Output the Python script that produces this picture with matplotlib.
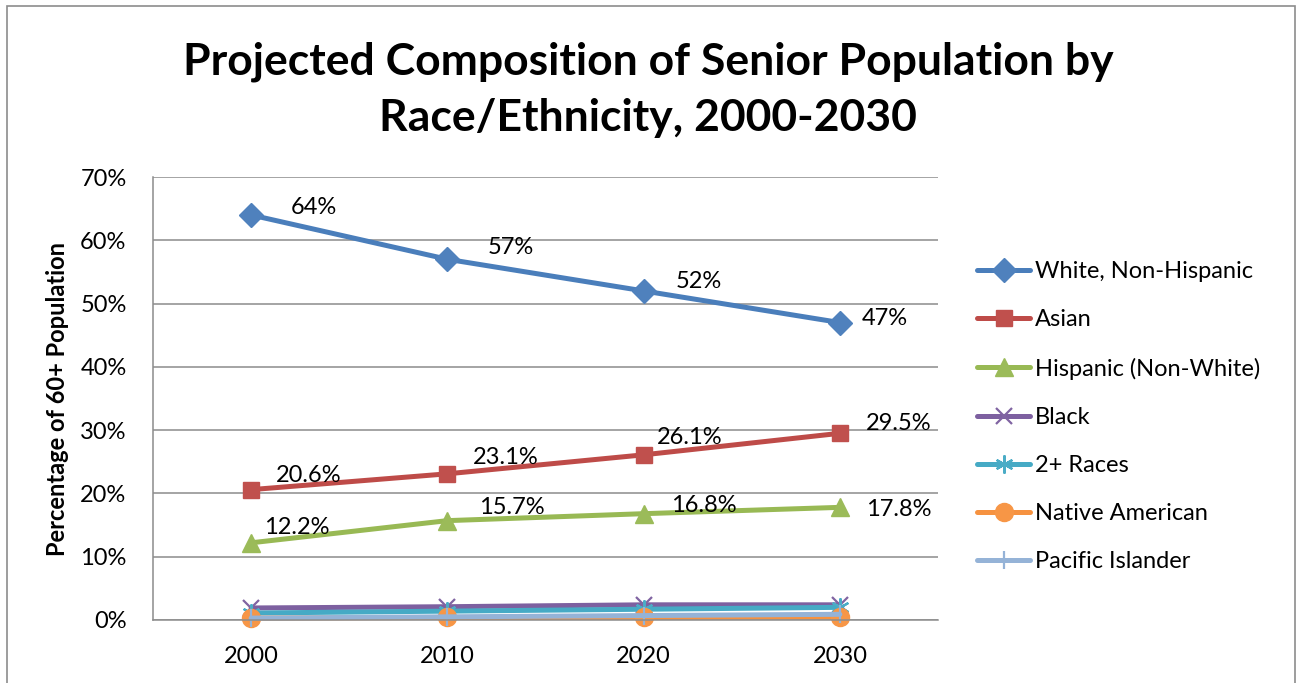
import matplotlib
matplotlib.use("Agg")
import matplotlib.pyplot as plt
from matplotlib.patches import Rectangle
from matplotlib.ticker import FuncFormatter

plt.rcParams['font.family'] = ['Lato', 'DejaVu Sans']

years = ['2000', '2010', '2020', '2030']

white = [64, 57, 52, 47]
asian = [20.6, 23.1, 26.1, 29.5]
hispanic = [12.2, 15.7, 16.8, 17.8]
black = [1.9, 2.1, 2.4, 2.4]
multi = [1.1, 1.4, 1.7, 2.0]
native = [0.3, 0.4, 0.4, 0.5]
pacific = [0.3, 0.5, 0.7, 0.9]

names = ['White, Non-Hispanic', 'Asian', 'Hispanic (Non-White)', 'Black',
         '2+ Races', 'Native American', 'Pacific Islander']

# label nudges in pixels (dx, dy), one per point of the labelled series
white_off = [(40, 7), (40, 12), (32, 9), (22, 4)]
asian_off = [(25, 14), (25, 16), (13, 17), (26, 10)]
hisp_off = [(13, 15), (32, 13), (27, 8), (26, -2)]

FS = 17

fig = plt.figure(figsize=(12.96, 6.83), dpi=100)
ax = fig.add_axes([153 / 1296, 1 - 620 / 683, 785 / 1296, 443 / 683])

x = range(len(years))
styles = [
    (white, '#4A7EBB', '#4F81BD', 'D', 12),
    (asian, '#BE4B48', '#C0504D', 's', 12),
    (hispanic, '#98B954', '#9BBB59', '^', 13),
    (black, '#7D60A0', '#8064A2', 'x', 12),
    (multi, '#46AAC5', '#4BACC6', (6, 2, 0), 13),
    (native, '#F69240', '#F79646', 'o', 13),
    (pacific, '#95B3D7', '#95B3D7', '|', 13),
]
for (vals, lc, mc, mk, ms), name in zip(styles, names):
    ax.plot(x, vals, color=lc, lw=3.6, marker=mk, ms=ms, mfc=mc, mec=mc,
            mew=1.6 if mk in ('x', '|') or isinstance(mk, tuple) else 1,
            label=name, solid_capstyle='round', clip_on=False)

for vals, offs, fmt in [(white, white_off, '{:.0f}%'),
                        (asian, asian_off, '{:.1f}%'),
                        (hispanic, hisp_off, '{:.1f}%')]:
    for i, v in enumerate(vals):
        dx, dy = offs[i]
        ax.annotate(fmt.format(v), (i, v), xytext=(dx * 0.72, dy * 0.72),
                    textcoords='offset points', ha='left', va='center',
                    fontsize=FS)

ax.set_xlim(-0.5, 3.5)
ax.set_ylim(0, 70)
ax.set_yticks(range(0, 71, 10))
ax.yaxis.set_major_formatter(FuncFormatter(lambda v, p: f'{v:.0f}%'))
ax.set_xticks(list(x))
ax.set_xticklabels(years)
ax.xaxis.set_tick_params(length=0, labelsize=FS, pad=19)
ax.yaxis.set_tick_params(length=0, labelsize=FS, pad=19)
ax.grid(axis='y', color='#8C8C8C', lw=1.1)
ax.set_axisbelow(True)
for side in ['top', 'right']:
    ax.spines[side].set_visible(False)
for side in ['left', 'bottom']:
    ax.spines[side].set_color('#8C8C8C')
    ax.spines[side].set_linewidth(1.1)

ax.set_ylabel('Percentage of 60+ Population', fontsize=FS, fontweight='bold',
              labelpad=8)

fig.text(0.5, 1 - 90 / 683, 'Projected Composition of Senior Population by\nRace/Ethnicity, 2000-2030',
         ha='center', va='center', fontsize=32, fontweight='bold',
         linespacing=1.5)

leg = fig.legend(loc='upper left', bbox_to_anchor=(956 / 1296, 1 - 240 / 683),
                 frameon=False, fontsize=FS, handlelength=2.23,
                 labelspacing=1.15, handletextpad=0.2)

fig.patches.append(Rectangle((7 / 1296, -0.05), 1288 / 1296, 1.05 - 6 / 683,
                             transform=fig.transFigure, fill=False,
                             edgecolor='#8C8C8C', lw=1.2))

fig.savefig('out.png', dpi=100)
